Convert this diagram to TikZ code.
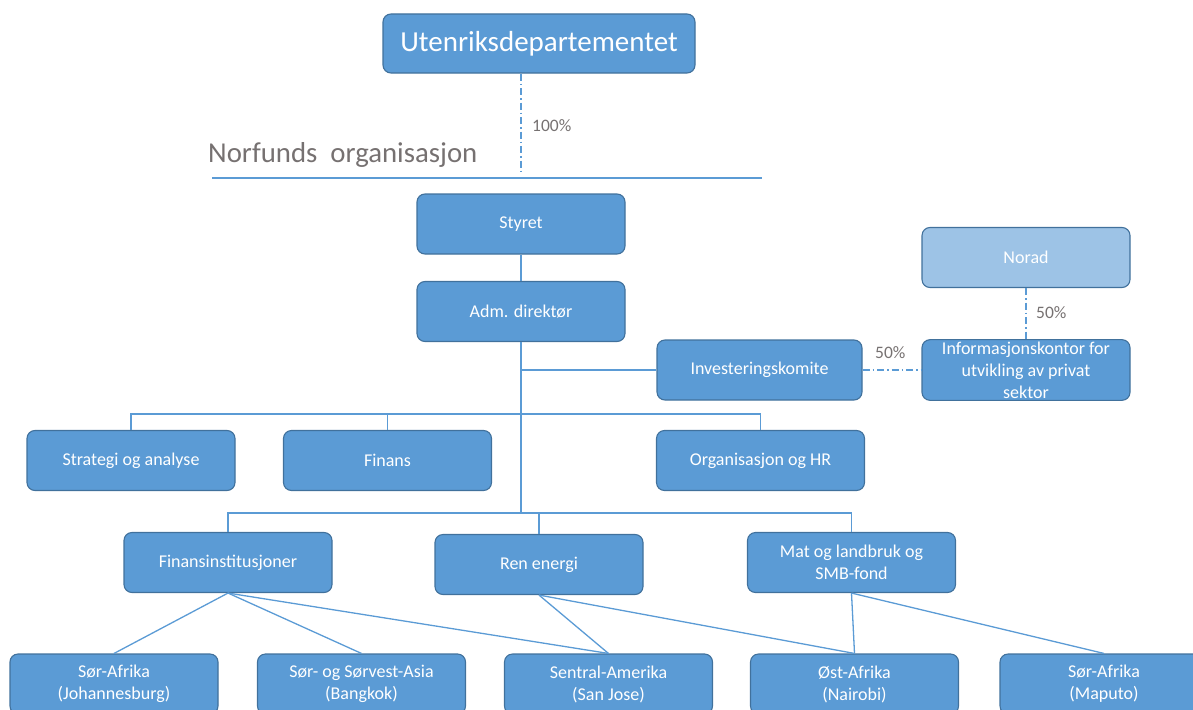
\documentclass[tikz,border=0pt]{standalone}
\usepackage{fontspec}
\setmainfont{Carlito}
\definecolor{unitfill}{HTML}{5B9BD5}
\definecolor{unitedge}{HTML}{41719C}
\definecolor{noradfill}{HTML}{9DC3E6}
\definecolor{greytext}{HTML}{767171}
\tikzset{
  unit/.style={draw=unitedge, fill=unitfill, line width=1.1pt, rounded corners=8pt,
    minimum width=208pt, minimum height=60pt, text=white, align=center, inner sep=2pt,
    font=\fontsize{18}{22}\selectfont},
  owner/.style={draw=unitfill, line width=1.3pt, dash pattern=on 7pt off 3pt on 1.5pt off 3pt},
  pct/.style={text=greytext, inner sep=0pt, font=\fontsize{17.5}{20}\selectfont},
}
\begin{document}
\begin{tikzpicture}[x=1pt,y=-1pt]
      \useasboundingbox (0,0) rectangle (1193,709);
      % owner and heading
      \draw
        (539,43.5) node[unit, minimum width=312pt, minimum height=59pt,
          font=\fontsize{29}{34}\selectfont] (ud){Utenriksdepartementet}
        (208,155) node[anchor=west, inner sep=0pt, text=greytext,
          font=\fontsize{28.8}{32}\selectfont] (title){Norfunds\ \ organisasjon};
      \coordinate (own) at (521,175);
      \draw[owner] (ud.south -| own) to (own);
      \node[pct, anchor=west] (p1) at (532,126) {100\%};
      \draw[unitfill, line width=1.3pt] (212,178) to (762,178);
      % units
      \draw
        (521,224) node[unit] (styret){Styret}
        (521,311.5) node[unit] (adm){Adm. direktør}
        (759.5,370) node[unit, minimum width=205pt] (inv){Investeringskomite}
        (1026,257.5) node[unit, fill=noradfill] (norad){Norad}
        (1026,370) node[unit] (info){Informasjonskontor for\\utvikling av privat\\sektor}
        (131,460.5) node[unit] (strat){Strategi og analyse}
        (387.5,460.5) node[unit] (fin){Finans}
        (760.5,460.5) node[unit] (org){Organisasjon og HR}
        (228,562.5) node[unit] (fi){Finansinstitusjoner}
        (539,564.5) node[unit] (re){Ren energi}
        (851.5,562.5) node[unit] (mat){Mat og landbruk og\\SMB-fond}
        (114,684) node[unit] (sa){Sør-Afrika\\(Johannesburg)}
        (361.5,684) node[unit] (asia){Sør- og Sørvest-Asia\\(Bangkok)}
        (608.5,684) node[unit] (ame){Sentral-Amerika\\(San Jose)}
        (854.5,684) node[unit] (oa){Øst-Afrika\\(Nairobi)}
        (1104,684) node[unit] (map){Sør-Afrika\\(Maputo)};
      \coordinate (j1) at (521,414);
      \coordinate (j2) at (521,513);
      \begin{scope}[unitfill, line width=1.3pt]
        \draw (styret) to (adm);
        \draw (adm) to (j2);
        \draw (inv.west) to (inv.west -| adm.south);
        \draw (strat.north) |- (j1) -- (org.north |- j1) -- (org.north);
        \draw (fin.north) to (fin.north |- j1);
        \draw (fi.north) |- (j2) -| (mat.north);
        \draw (re.north) to (re.north |- j2);
        \draw (fi.south) to (sa.north);
        \draw (fi.south) to (asia.north);
        \draw (fi.south) to (ame.north);
        \draw (re.south) to (ame.north);
        \draw (re.south) to (oa.north);
        \draw (mat.south) to (oa.north);
        \draw (mat.south) to (map.north);
      \end{scope}
      \begin{scope}[owner]
        \draw (norad) to (info);
        \draw (inv) to (info);
      \end{scope}
      \node[pct, anchor=west] (p2) at (1036,313) {50\%};
      \node[pct, anchor=west] (p3) at (875,353) {50\%};
    \end{tikzpicture}
\end{document}
